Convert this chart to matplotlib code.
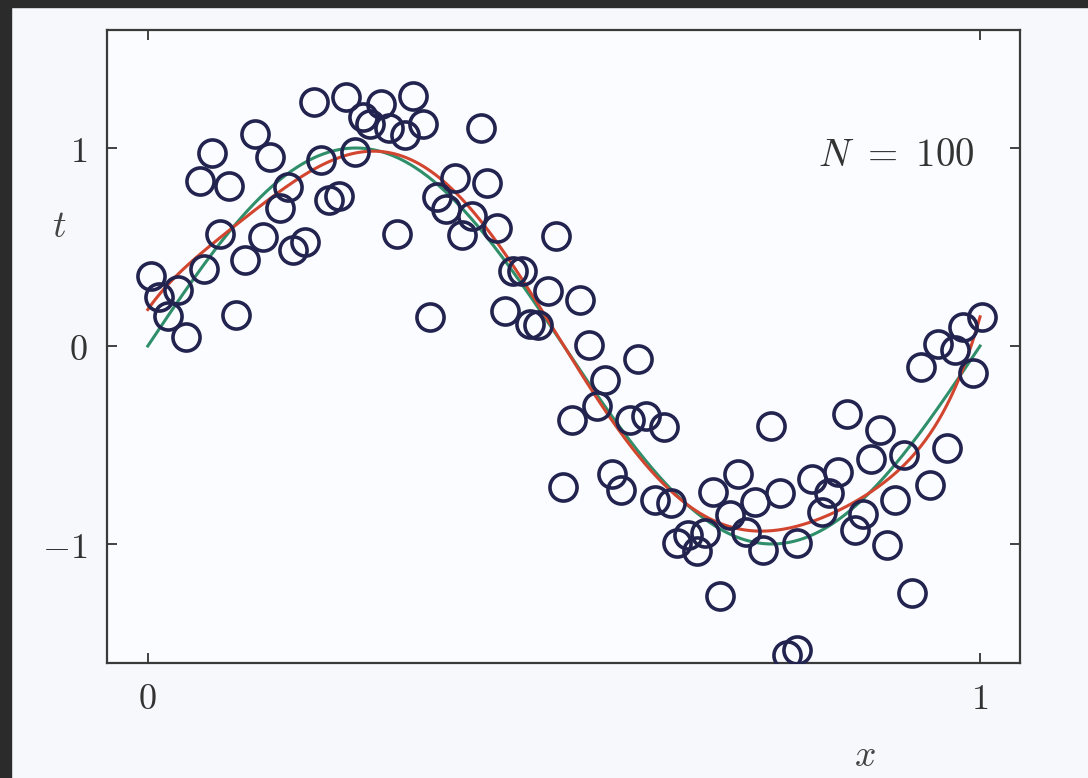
import matplotlib
matplotlib.use('Agg')
import matplotlib.pyplot as plt
import numpy as np
from matplotlib.patches import Rectangle

x_obs = [0.004, 0.014, 0.024, 0.036, 0.046, 0.063, 0.077, 0.067, 0.087, 0.097,
         0.106, 0.117, 0.129, 0.138, 0.147, 0.159, 0.168, 0.174, 0.189, 0.200,
         0.208, 0.218, 0.230, 0.238, 0.249, 0.258, 0.267, 0.280, 0.290, 0.299,
         0.309, 0.319, 0.331, 0.339, 0.347, 0.358, 0.369, 0.377, 0.389, 0.400,
         0.407, 0.419, 0.429, 0.439, 0.450, 0.459, 0.469, 0.481, 0.490, 0.499,
         0.510, 0.519, 0.530, 0.540, 0.549, 0.558, 0.569, 0.579, 0.589, 0.599,
         0.609, 0.620, 0.629, 0.636, 0.649, 0.660, 0.669, 0.679, 0.688, 0.700,
         0.709, 0.719, 0.730, 0.739, 0.749, 0.760, 0.768, 0.780, 0.780, 0.798,
         0.810, 0.819, 0.829, 0.840, 0.850, 0.859, 0.869, 0.880, 0.888, 0.898,
         0.909, 0.918, 0.929, 0.940, 0.950, 0.960, 0.970, 0.980, 0.992, 1.002]
t_obs = [0.354, 0.247, 0.152, 0.283, 0.045, 0.833, 0.975, 0.389, 0.566, 0.808,
         0.157, 0.434, 1.070, 0.550, 0.955, 0.697, 0.803, 0.485, 0.525, 1.232,
         0.939, 0.737, 0.758, 1.258, 0.980, 1.157, 1.121, 1.222, 1.100, 0.566,
         1.066, 1.263, 1.121, 0.146, 0.753, 0.692, 0.848, 0.561, 0.657, 1.100,
         0.823, 0.596, 0.177, 0.379, 0.379, 0.111, 0.106, 0.278, 0.556, -0.712,
         -0.374, 0.232, 0.005, -0.303, -0.172, -0.646, -0.727, -0.374, -0.066, -0.354,
         -0.778, -0.409, -0.793, -0.995, -0.955, -1.035, -0.944, -0.737, -1.263, -0.854,
         -0.646, -0.939, -0.788, -1.030, -0.404, -0.742, -1.560, -1.535, -0.995, -0.672,
         -0.838, -0.742, -0.636, -0.343, -0.929, -0.848, -0.571, -0.424, -1.005, -0.778,
         -0.551, -1.247, -0.106, -0.702, 0.010, -0.515, -0.020, 0.096, -0.136, 0.146]

poly_order = 9

plt.rcParams['mathtext.fontset'] = 'cm'

fig = plt.figure(figsize=(10.88, 7.78), dpi=100)
fig.patch.set_facecolor('#f7f8fc')
# dark scan borders
fig.patches.append(Rectangle((0, 0), 11 / 1088, 1, transform=fig.transFigure,
                             color='#2b2b2b', zorder=0))
fig.patches.append(Rectangle((0, 1 - 7 / 778), 1, 7 / 778, transform=fig.transFigure,
                             color='#2b2b2b', zorder=0))

ax = fig.add_axes([107 / 1088, 115 / 778, 913 / 1088, 633 / 778])
ax.set_facecolor('#fbfcff')

xx = np.linspace(0, 1, 400)
# generating function and the fitted polynomial
ax.plot(xx, np.sin(2 * np.pi * xx), color='#2f8f6a', lw=2.2, zorder=2)
coef = np.polyfit(x_obs, t_obs, poly_order)
ax.plot(xx, np.polyval(coef, xx), color='#d2452f', lw=2.2, zorder=3)

ax.plot(x_obs, t_obs, 'o', ms=19.5, mfc='none', mec='#22234f', mew=2.6, zorder=4)

ax.set_xlim(-0.049, 1.048)
ax.set_ylim(-1.601, 1.596)
ax.set_xticks([0, 1])
ax.set_xticklabels(['$0$', '$1$'])
ax.set_yticks([-1, 0, 1])
ax.set_yticklabels(['$-1$', '$0$', '$1$'])
ax.tick_params(direction='in', length=7, width=1.3, top=True, right=True,
               labelsize=26, colors='#333333', pad=14)
for s in ax.spines.values():
    s.set_color('#3a3a3a')
    s.set_linewidth(1.6)

ax.text(-0.106, 0.60, '$t$', fontsize=27, ha='center', va='center', color='#444444',
        clip_on=False)
ax.text(0.862, -2.07, '$x$', fontsize=27, ha='center', va='center', color='#444444',
        clip_on=False)
ax.text(0.994, 0.965, r'$N\ =\ 100$', fontsize=28, ha='right', va='center',
        color='#333333')

fig.savefig('out.png', dpi=100, facecolor=fig.get_facecolor())
